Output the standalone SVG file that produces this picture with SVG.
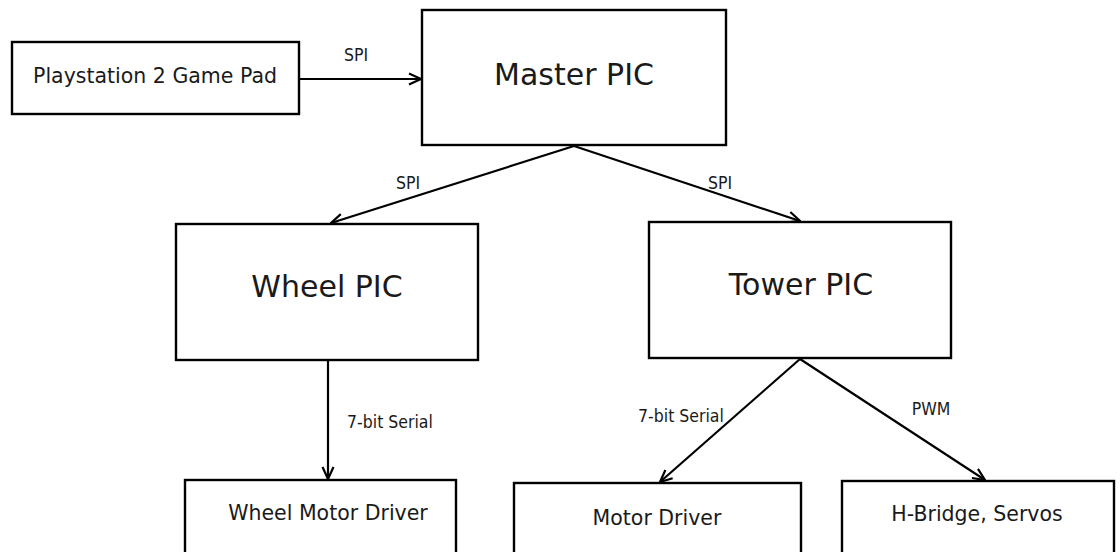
<svg xmlns="http://www.w3.org/2000/svg" width="1120" height="552" viewBox="0 0 1120 552">
  <style>
    .box { fill: #ffffff; stroke: #000000; stroke-width: 2.4; }
    .big { font-family: "DejaVu Sans", sans-serif; font-size: 30px; fill: #1a1a1a; text-anchor: middle; }
    .mid { font-family: "DejaVu Sans", sans-serif; font-size: 20.5px; fill: #1a1a1a; text-anchor: middle; }
    .lbl { font-family: "DejaVu Sans", sans-serif; font-stretch: condensed; font-size: 17.5px; fill: #1a1a1a; text-anchor: middle; }
    .edge { fill: none; stroke: #000000; stroke-width: 2.2; marker-end: url(#chev); }
  </style>
  <defs>
    <!-- open chevron arrowhead shared by every connector -->
    <marker id="chev" viewBox="0 0 14 14" refX="13" refY="7" markerWidth="14" markerHeight="14" markerUnits="userSpaceOnUse" orient="auto">
      <path d="M1,1.5 L13,7 L1,12.5" fill="none" stroke="#000000" stroke-width="2.2"/>
    </marker>
  </defs>
  <rect width="1120" height="552" fill="#ffffff"/>

  <g id="connectors">
    <line class="edge" x1="299" y1="79" x2="421" y2="79"/>
    <line class="edge" x1="574" y1="146" x2="331" y2="223"/>
    <line class="edge" x1="574" y1="146" x2="800" y2="221"/>
    <line class="edge" x1="328" y1="361" x2="328" y2="479"/>
    <line class="edge" x1="800" y1="359" x2="660" y2="482"/>
    <line class="edge" x1="800" y1="359" x2="985" y2="480"/>
    <text class="lbl" x="356" y="61">SPI</text>
    <text class="lbl" x="408" y="189">SPI</text>
    <text class="lbl" x="720" y="189">SPI</text>
    <text class="lbl" x="390" y="428">7-bit Serial</text>
    <text class="lbl" x="681" y="422">7-bit Serial</text>
    <text class="lbl" x="931" y="415">PWM</text>
  </g>

  <g id="gamepad">
    <rect class="box" x="12" y="42" width="287" height="72"/>
    <text class="mid" x="155" y="83">Playstation 2 Game Pad</text>
  </g>
  <g id="master">
    <rect class="box" x="422" y="10" width="304" height="135"/>
    <text class="big" x="574" y="85">Master PIC</text>
  </g>
  <g id="wheel">
    <rect class="box" x="176" y="224" width="302" height="136"/>
    <text class="big" x="327" y="297">Wheel PIC</text>
  </g>
  <g id="tower">
    <rect class="box" x="649" y="222" width="302" height="136"/>
    <text class="big" x="801" y="295">Tower PIC</text>
  </g>
  <g id="wheel-driver">
    <rect class="box" x="185" y="480" width="271" height="80"/>
    <text class="mid" x="328" y="520">Wheel Motor Driver</text>
  </g>
  <g id="motor-driver">
    <rect class="box" x="514" y="483" width="287" height="80"/>
    <text class="mid" x="657" y="525">Motor Driver</text>
  </g>
  <g id="hbridge">
    <rect class="box" x="842" y="481" width="272" height="80"/>
    <text class="mid" x="977" y="521">H-Bridge, Servos</text>
  </g>
</svg>
